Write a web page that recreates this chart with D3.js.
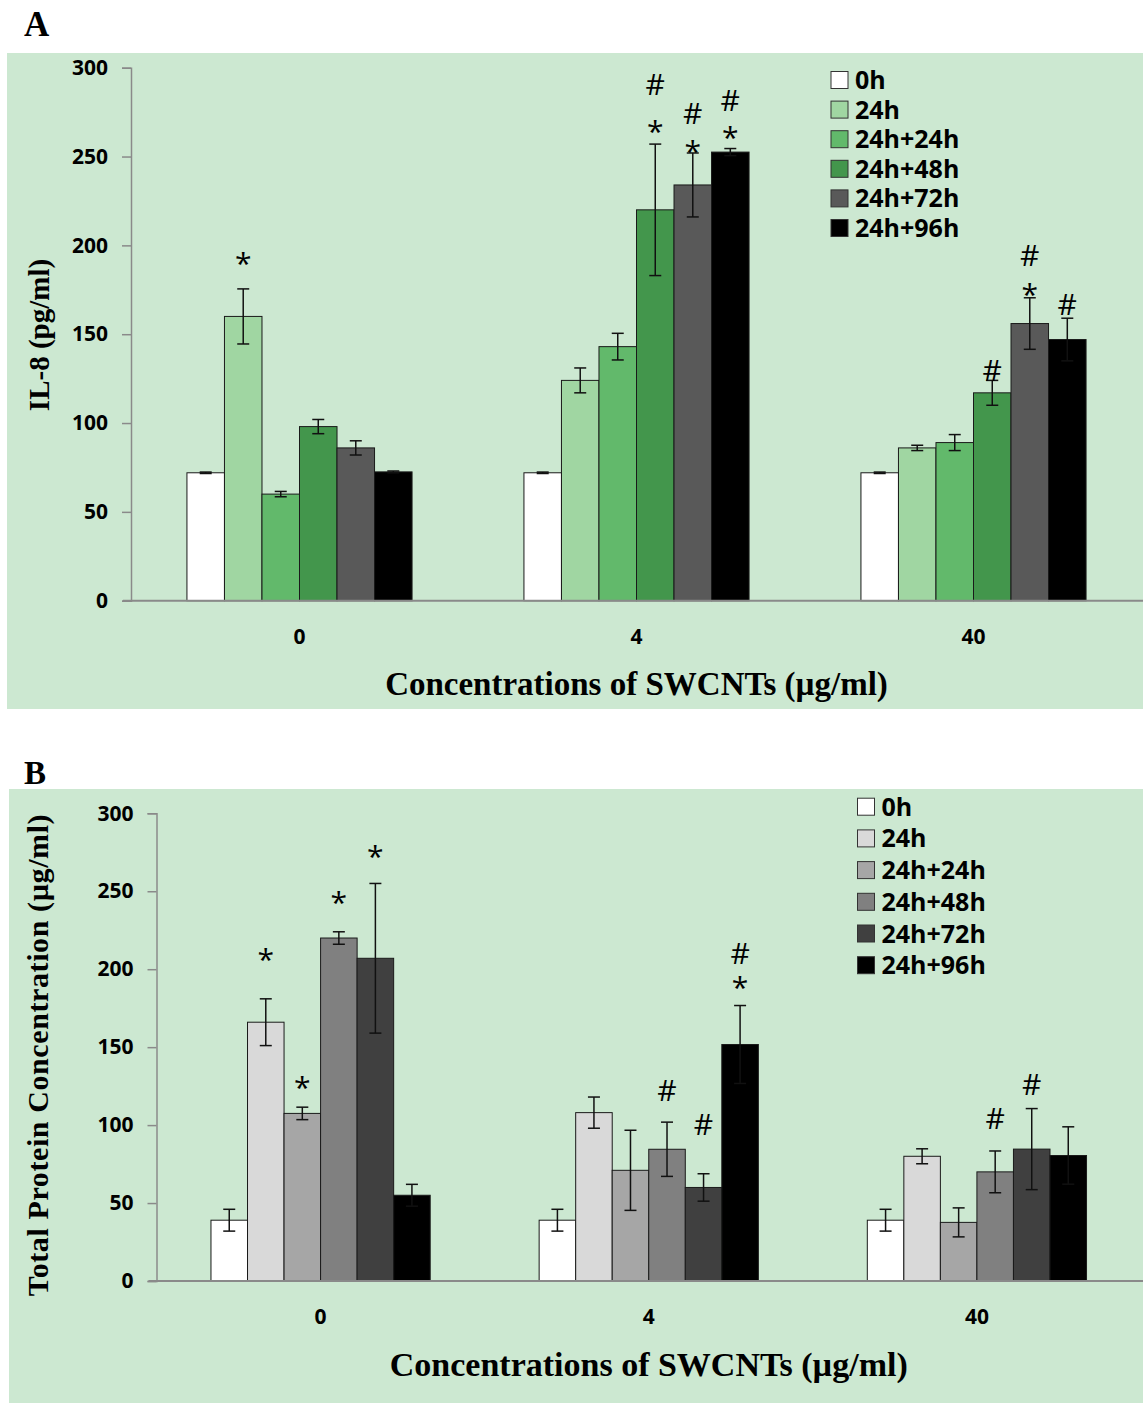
<!DOCTYPE html>
<html>
<head>
<meta charset="utf-8">
<script src="https://cdnjs.cloudflare.com/ajax/libs/d3/7.8.5/d3.min.js"></script>
<style>
  body { margin: 0; background: #fff; }
  svg { display: block; }
  .tick-lbl { font-family: "Open Sans", sans-serif; font-weight: 700; }
  .title { font-family: "Liberation Serif", "Times New Roman", serif; font-weight: 700; }
</style>
</head>
<body>
<svg id="chart" width="1143" height="1403"></svg>
<script>
// categories and series
const groups = ["0", "4", "40"];
const seriesNames = ["0h", "24h", "24h+24h", "24h+48h", "24h+72h", "24h+96h"];
const yTicks = [0, 50, 100, 150, 200, 250, 300];

// panel A : IL-8 (pg/ml), rows = groups, columns = series
const il8Means = [
  [72, 160, 60, 98, 86, 72.5],
  [72, 124, 143, 220, 234, 252.5],
  [72, 86, 89, 117, 156, 147]
];
const il8Errors = [
  [0.4, 15.5, 1.5, 4, 4, 0.5],
  [0.4, 7, 7.5, 37, 18, 2],
  [0.4, 1.5, 4.5, 7, 14.5, 12]
];
// significance marks : [group, series, text, value where the mark sits]
const il8Marks = [
  [0, 1, "*", 193],
  [1, 3, "#", 290.5], [1, 3, "*", 267.5],
  [1, 4, "#", 274.5], [1, 4, "*", 256],
  [1, 5, "#", 281.5], [1, 5, "*", 264],
  [2, 3, "#", 129.5],
  [2, 4, "#", 194.5], [2, 4, "*", 175.5],
  [2, 5, "#", 167]
];
const il8Colors = ["#ffffff", "#a0d6a2", "#62b96b", "#43964c", "#595959", "#000000"];

// panel B : total protein (µg/ml)
const proteinMeans = [
  [39, 166, 107.5, 220, 207, 55],
  [39, 108, 71, 84.5, 60, 151.7],
  [39, 80, 37.6, 70, 84.6, 80.5]
];
const proteinErrors = [
  [7, 15, 4, 4, 48, 7],
  [7, 10, 25.7, 17.4, 8.8, 25],
  [7, 4.8, 9.3, 13.4, 26, 18.4]
];
const proteinMarks = [
  [0, 1, "*", 209.7], [0, 2, "*", 128], [0, 3, "*", 246.7], [0, 4, "*", 276],
  [1, 3, "#", 122.4], [1, 4, "#", 100.6], [1, 5, "#", 210.4], [1, 5, "*", 192.2],
  [2, 3, "#", 104.5], [2, 4, "#", 126.2]
];
const proteinColors = ["#ffffff", "#d9d9d9", "#a6a6a6", "#808080", "#404040", "#000000"];

const svg = d3.select("#chart");
const bg = "#cce8d1";

function drawPanel(p) {
  const g = svg.append("g");

  g.append("rect")
    .attr("x", p.box[0]).attr("y", p.box[1])
    .attr("width", p.box[2]).attr("height", p.box[3])
    .attr("fill", bg);

  g.append("text").attr("class", "title")
    .attr("x", p.letter[0]).attr("y", p.letter[1])
    .attr("font-size", p.letter[2])
    .text(p.letterText);

  const y = d3.scaleLinear().domain([0, 300]).range([p.y0, p.y300]);
  const x0 = d3.scaleBand().domain(groups).range([p.xl, p.xr])
    .paddingInner(0.332).paddingOuter(0.166);
  const x1 = d3.scaleBand().domain(seriesNames).range([0, x0.bandwidth()]);

  // y axis
  const yAxis = g.append("g")
    .attr("transform", "translate(" + p.xl + ",0)")
    .call(d3.axisLeft(y).tickValues(yTicks).tickSize(9).tickPadding(14));
  yAxis.select(".domain").attr("stroke", "#8a8a8a").attr("stroke-width", 1.5);
  yAxis.selectAll(".tick line").attr("stroke", "#8a8a8a").attr("stroke-width", 1.5);
  yAxis.selectAll(".tick text").attr("class", "tick-lbl")
    .attr("font-size", 21).attr("fill", "#000");

  // bars
  const data = [];
  groups.forEach((gr, gi) => seriesNames.forEach((s, si) => {
    data.push({ gr, s, si, v: p.means[gi][si], e: p.errors[gi][si] });
  }));

  g.selectAll(".bar").data(data).enter().append("rect")
    .attr("class", "bar")
    .attr("x", d => x0(d.gr) + x1(d.s))
    .attr("y", d => y(d.v))
    .attr("width", x1.bandwidth())
    .attr("height", d => y(0) - y(d.v))
    .attr("fill", d => p.colors[d.si])
    .attr("stroke", "#1a1a1a")
    .attr("stroke-width", 1);

  // x axis line
  g.append("line")
    .attr("x1", p.xl - 8).attr("x2", 1143)
    .attr("y1", y(0)).attr("y2", y(0))
    .attr("stroke", "#8a8a8a").attr("stroke-width", 2);

  groups.forEach(gr => {
    g.append("text").attr("class", "tick-lbl")
      .attr("x", x0(gr) + x0.bandwidth() / 2)
      .attr("y", y(0) + p.xTickDy)
      .attr("text-anchor", "middle")
      .attr("font-size", 21)
      .text(gr);
  });

  // error bars
  const cap = 6;
  const eb = g.selectAll(".err").data(data).enter().append("g")
    .attr("transform", d => "translate(" + (x0(d.gr) + x1(d.s) + x1.bandwidth() / 2) + ",0)");
  eb.append("line")
    .attr("y1", d => y(d.v - d.e)).attr("y2", d => y(d.v + d.e))
    .attr("stroke", "#111").attr("stroke-width", 1.5);
  eb.append("line")
    .attr("x1", -cap).attr("x2", cap)
    .attr("y1", d => y(d.v + d.e)).attr("y2", d => y(d.v + d.e))
    .attr("stroke", "#111").attr("stroke-width", 1.5);
  eb.append("line")
    .attr("x1", -cap).attr("x2", cap)
    .attr("y1", d => y(d.v - d.e)).attr("y2", d => y(d.v - d.e))
    .attr("stroke", "#111").attr("stroke-width", 1.5);

  // significance marks
  const fs = 30;
  g.selectAll(".mark").data(p.marks).enter().append("text")
    .attr("x", m => x0(groups[m[0]]) + x1(seriesNames[m[1]]) + x1.bandwidth() / 2)
    .attr("y", m => y(m[3]) + (m[2] === "*" ? 0.54 : 0.36) * fs)
    .attr("text-anchor", "middle")
    .attr("font-family", "'Open Sans', sans-serif")
    .attr("font-size", fs)
    .attr("fill", "#000")
    .text(m => m[2]);

  // axis titles
  g.append("text").attr("class", "title")
    .attr("x", x0(groups[1]) + x0.bandwidth() / 2)
    .attr("y", p.xTitleY)
    .attr("text-anchor", "middle")
    .attr("font-size", p.xTitleSize)
    .text("Concentrations of SWCNTs (\u00b5g/ml)");

  g.append("text").attr("class", "title")
    .attr("transform", "translate(" + p.yTitle[0] + "," + p.yTitle[1] + ") rotate(-90)")
    .attr("text-anchor", "middle")
    .attr("font-size", p.yTitleSize)
    .attr("letter-spacing", p.yTitleSpacing)
    .text(p.yTitleText);

  // legend
  const lg = g.append("g").attr("transform", "translate(" + p.legend[0] + "," + p.legend[1] + ")");
  seriesNames.forEach((s, i) => {
    const row = lg.append("g").attr("transform", "translate(0," + i * p.legend[2] + ")");
    row.append("rect")
      .attr("x", 0).attr("y", -8.5).attr("width", 17).attr("height", 17)
      .attr("fill", p.colors[i]).attr("stroke", "#333").attr("stroke-width", 1);
    row.append("text").attr("class", "tick-lbl")
      .attr("x", 24).attr("y", 9)
      .attr("font-size", 25)
      .text(s);
  });
}

drawPanel({
  box: [7, 53, 1136, 656],
  letter: [24, 36, 35], letterText: "A",
  y0: 600.7, y300: 67.7, xl: 131, xr: 1142,
  means: il8Means, errors: il8Errors, marks: il8Marks, colors: il8Colors,
  xTickDy: 43, xTitleY: 695, xTitleSize: 33,
  yTitle: [49, 335], yTitleSize: 29, yTitleSpacing: 0, yTitleText: "IL-8 (pg/ml)",
  legend: [831, 80, 29.6]
});

drawPanel({
  box: [9, 789, 1134, 614],
  letter: [24, 784, 33], letterText: "B",
  y0: 1281, y300: 813.3, xl: 156.5, xr: 1141,
  means: proteinMeans, errors: proteinErrors, marks: proteinMarks, colors: proteinColors,
  xTickDy: 43, xTitleY: 1376, xTitleSize: 34,
  yTitle: [48, 1055], yTitleSize: 30, yTitleSpacing: 0.6, yTitleText: "Total Protein Concentration (\u00b5g/ml)",
  legend: [857.5, 806.7, 31.7]
});
</script>
</body>
</html>
